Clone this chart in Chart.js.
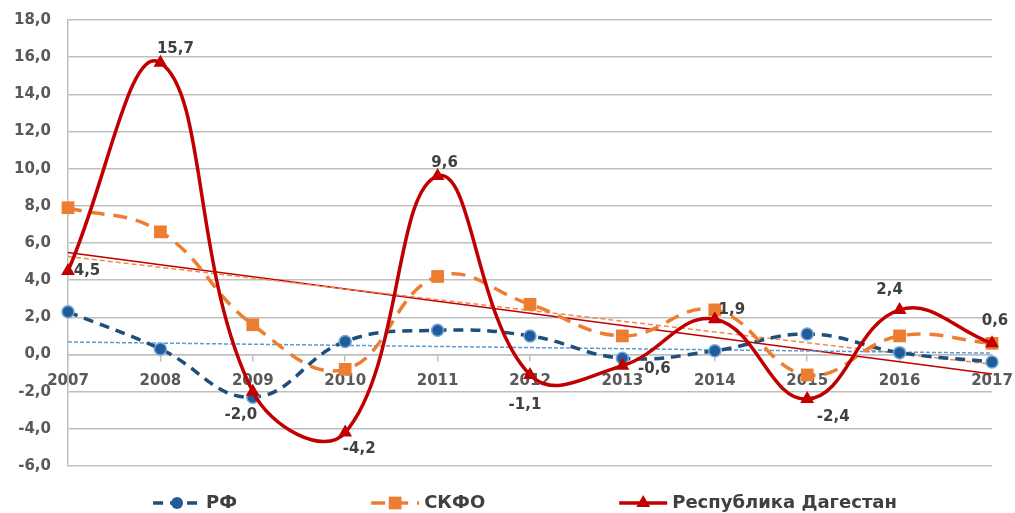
<!DOCTYPE html>
<html>
<head>
<meta charset="utf-8">
<script src="https://cdn.jsdelivr.net/npm/chart.js"></script>
<style>
  body { margin: 0; background: #fff; }
  #wrap { width: 1015px; height: 513px; }
</style>
</head>
<body>
<div id="wrap"><canvas id="growthChart" width="1015" height="513"></canvas></div>
<script>
// Data
const years = ['2007', '2008', '2009', '2010', '2011', '2012', '2013', '2014', '2015', '2016', '2017'];
const rfValues = [2.3, 0.3, -2.3, 0.7, 1.3, 1.0, -0.2, 0.2, 1.1, 0.1, -0.4];
const skfoValues = [7.9, 6.6, 1.6, -0.8, 4.2, 2.7, 1.0, 2.4, -1.1, 1.0, 0.6];
const dagValues = [4.5, 15.7, -2.0, -4.2, 9.6, -1.1, -0.6, 1.9, -2.4, 2.4, 0.6];
const yTicks = [-6, -4, -2, 0, 2, 4, 6, 8, 10, 12, 14, 16, 18];

// where each Dagestan value label sits relative to its marker (dx, dy)
const dagLabelOffsets = [[19, 0], [15, -14], [-12, 23], [14, 17], [7, -13], [-5, 30],
                         [32, 3], [17, -9], [26, 18], [-10, -20], [3, -22]];

const FONT = '"DejaVu Sans", sans-serif';
const fmt = v => v.toFixed(1).replace('.', ',');

// least-squares linear trend (same as Excel's linear trendline)
function linearTrend(vals) {
    const n = vals.length;
    const mx = (n - 1) / 2;
    const my = vals.reduce((a, b) => a + b, 0) / n;
    let sxy = 0, sxx = 0;
    vals.forEach((v, i) => { sxy += (i - mx) * (v - my); sxx += (i - mx) * (i - mx); });
    const k = sxy / sxx;
    return vals.map((v, i) => my + k * (i - mx));
}

function drawMarker(ctx, style, x, y, r) {
    ctx.beginPath();
    if (style === 'circle') {
        ctx.arc(x, y, r, 0, Math.PI * 2);
    } else if (style === 'rect') {
        const s = r * Math.SQRT1_2;
        ctx.rect(x - s, y - s, s * 2, s * 2);
    } else if (style === 'triangle') {
        const h = r * Math.sqrt(3) / 2;
        ctx.moveTo(x, y - r);
        ctx.lineTo(x + h, y + r / 2);
        ctx.lineTo(x - h, y + r / 2);
        ctx.closePath();
    }
    ctx.fill();
}

// legend with line sample + marker, like Excel
const lineLegend = {
    id: 'lineLegend',
    afterDraw(chart) {
        const ctx = chart.ctx;
        const items = chart.data.datasets.filter(d => d.inLegend);
        const y = 503, sampleW = 48, textGap = 5, itemGap = 134;
        ctx.save();
        ctx.font = 'bold 18px ' + FONT;
        const widths = items.map(d => sampleW + textGap + ctx.measureText(d.label).width);
        const total = widths.reduce((a, b) => a + b, 0) + itemGap * (items.length - 1);
        let x = (chart.chartArea.left + chart.chartArea.right) / 2 - total / 2 - 5;
        items.forEach((d, i) => {
            ctx.strokeStyle = d.borderColor;
            ctx.lineWidth = d.borderWidth;
            ctx.setLineDash(d.borderDash || []);
            ctx.beginPath();
            ctx.moveTo(x, y);
            ctx.lineTo(x + sampleW, y);
            ctx.stroke();
            ctx.setLineDash([]);
            ctx.fillStyle = d.pointBackgroundColor;
            drawMarker(ctx, d.pointStyle, x + sampleW / 2, y, d.pointRadius);
            ctx.fillStyle = '#404040';
            ctx.textAlign = 'left';
            ctx.textBaseline = 'middle';
            ctx.fillText(d.label, x + sampleW + textGap, y);
            x += widths[i] + itemGap;
        });
        ctx.restore();
    }
};

// value labels for Dagestan only
const valueLabels = {
    id: 'valueLabels',
    afterDatasetsDraw(chart) {
        const idx = chart.data.datasets.findIndex(d => d.showValues);
        const meta = chart.getDatasetMeta(idx);
        const ctx = chart.ctx;
        ctx.save();
        ctx.font = 'bold 15px ' + FONT;
        ctx.fillStyle = '#404040';
        ctx.textAlign = 'center';
        ctx.textBaseline = 'middle';
        meta.data.forEach((pt, k) => {
            const [dx, dy] = dagLabelOffsets[k];
            ctx.fillText(fmt(dagValues[k]), pt.x + dx, pt.y + dy);
        });
        ctx.restore();
    }
};

// labels may spill into the page margin, so scales ask for no extra room
const noScalePadding = s => {
    s.paddingLeft = 0; s.paddingRight = 0; s.paddingTop = 0; s.paddingBottom = 0;
};

const ctx = document.getElementById('growthChart').getContext('2d');
new Chart(ctx, {
    type: 'line',
    data: {
        labels: years,
        datasets: [{
            label: 'РФ',
            data: rfValues,
            borderColor: '#1F4E79',
            borderWidth: 3.5,
            borderDash: [10, 7],
            tension: 0.42,
            pointStyle: 'circle',
            pointRadius: 6,
            pointBackgroundColor: '#215C98',
            pointBorderColor: '#6FA8DC',
            pointBorderWidth: 1.5,
            order: 2,
            inLegend: true
        }, {
            label: 'СКФО',
            data: skfoValues,
            borderColor: '#ED7D31',
            borderWidth: 3.5,
            borderDash: [14, 9],
            tension: 0.42,
            pointStyle: 'rect',
            pointRadius: 9,
            pointBackgroundColor: '#ED7D31',
            pointBorderWidth: 0,
            order: 1,
            inLegend: true
        }, {
            label: 'Республика Дагестан',
            data: dagValues,
            borderColor: '#C00000',
            borderWidth: 3.5,
            tension: 0.42,
            pointStyle: 'triangle',
            pointRadius: 8,
            pointBackgroundColor: '#C00000',
            pointBorderWidth: 0,
            order: 0,
            inLegend: true,
            showValues: true
        }, {
            label: 'Линейная (РФ)',
            data: linearTrend(rfValues),
            borderColor: '#5B9BD5',
            borderWidth: 1.5,
            borderDash: [4, 2],
            pointRadius: 0,
            order: 3
        }, {
            label: 'Линейная (СКФО)',
            data: linearTrend(skfoValues),
            borderColor: '#F08A4B',
            borderWidth: 1.5,
            borderDash: [5, 3],
            pointRadius: 0,
            order: 3
        }, {
            label: 'Линейная (Республика Дагестан)',
            data: linearTrend(dagValues),
            borderColor: '#C00000',
            borderWidth: 1.5,
            pointRadius: 0,
            order: 3
        }]
    },
    options: {
        responsive: false,
        animation: false,
        layout: {
            padding: { top: 20, right: 23, bottom: 47, left: 0 }
        },
        plugins: {
            legend: { display: false },
            tooltip: { enabled: false }
        },
        scales: {
            x: {
                position: { y: 0 },
                offset: false,
                afterFit: noScalePadding,
                grid: {
                    drawOnChartArea: false,
                    drawTicks: true,
                    tickLength: 6,
                    color: '#BFBFBF',
                    lineWidth: 1.5
                },
                border: { color: '#BFBFBF', width: 1.5 },
                ticks: {
                    autoSkip: false,
                    maxRotation: 0,
                    padding: 12,
                    color: '#595959',
                    font: { family: FONT, size: 15, weight: 'bold' }
                }
            },
            y: {
                min: yTicks[0],
                max: yTicks[yTicks.length - 1],
                afterBuildTicks: s => { s.ticks = yTicks.map(v => ({ value: v })); },
                afterFit: s => { s.width = 68; noScalePadding(s); },
                grid: {
                    color: '#BFBFBF',
                    lineWidth: 1.5,
                    drawTicks: false
                },
                border: { color: '#BFBFBF', width: 1.5 },
                ticks: {
                    padding: 17,
                    color: '#595959',
                    font: { family: FONT, size: 15, weight: 'bold' },
                    callback: v => fmt(v)
                }
            }
        }
    },
    plugins: [valueLabels, lineLegend]
});
</script>
</body>
</html>
